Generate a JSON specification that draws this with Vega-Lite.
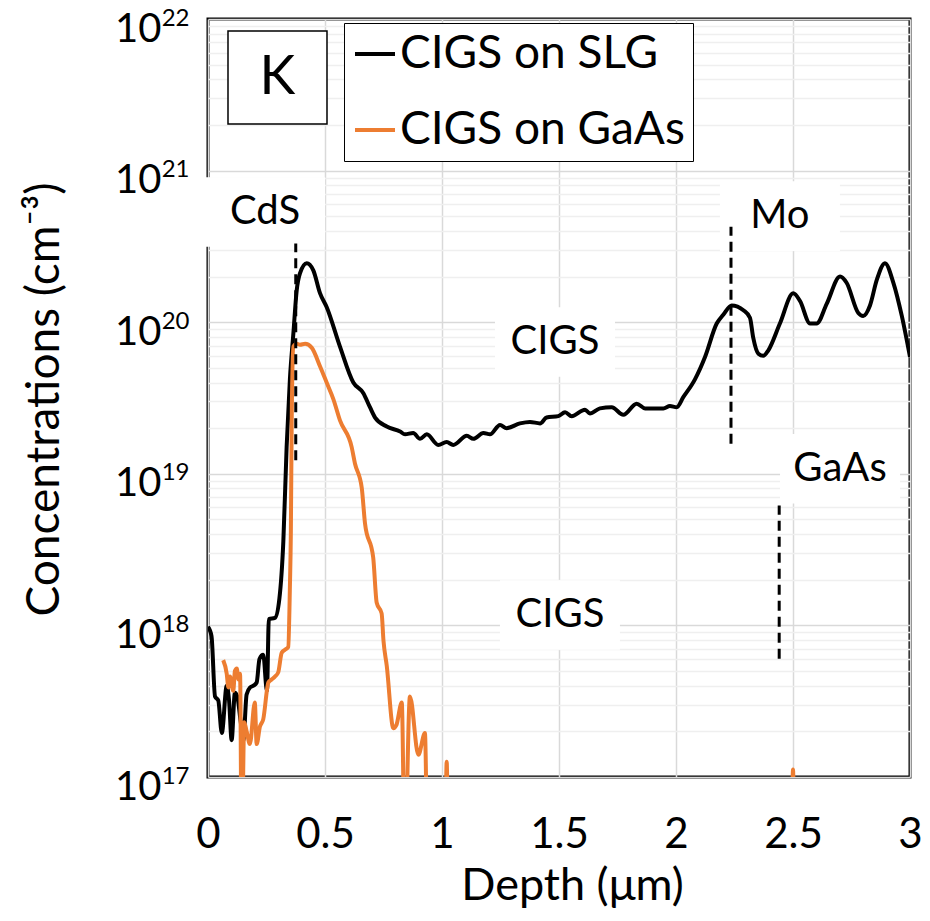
{
  "$schema": "https://vega.github.io/schema/vega-lite/v6.json",
  "width": 702,
  "height": 758,
  "autosize": {"type": "none"},
  "padding": {"left": 208, "top": 19, "right": 20, "bottom": 144},
  "background": "white",
  "config": {
    "view": {"stroke": "#000000", "strokeWidth": 3},
    "font": "Lato"
  },
  "resolve": {"axis": {"y": "independent"}},
  "datasets": {
    "profiles": [
      {"sample": "CIGS on SLG", "depth": 0.0, "conc": 9.8e17},
      {"sample": "CIGS on SLG", "depth": 0.015, "conc": 8.5e17},
      {"sample": "CIGS on SLG", "depth": 0.030, "conc": 3.4e17},
      {"sample": "CIGS on SLG", "depth": 0.044, "conc": 3.2e17},
      {"sample": "CIGS on SLG", "depth": 0.059, "conc": 1.95e17},
      {"sample": "CIGS on SLG", "depth": 0.080, "conc": 4.0e17},
      {"sample": "CIGS on SLG", "depth": 0.090, "conc": 3.2e17},
      {"sample": "CIGS on SLG", "depth": 0.101, "conc": 1.75e17},
      {"sample": "CIGS on SLG", "depth": 0.115, "conc": 3.6e17},
      {"sample": "CIGS on SLG", "depth": 0.125, "conc": 3.4e17},
      {"sample": "CIGS on SLG", "depth": 0.140, "conc": 2.3e17},
      {"sample": "CIGS on SLG", "depth": 0.151, "conc": 1.75e17},
      {"sample": "CIGS on SLG", "depth": 0.165, "conc": 3.5e17},
      {"sample": "CIGS on SLG", "depth": 0.180, "conc": 3.9e17},
      {"sample": "CIGS on SLG", "depth": 0.194, "conc": 4.0e17},
      {"sample": "CIGS on SLG", "depth": 0.208, "conc": 4.2e17},
      {"sample": "CIGS on SLG", "depth": 0.220, "conc": 6.0e17},
      {"sample": "CIGS on SLG", "depth": 0.236, "conc": 6.4e17},
      {"sample": "CIGS on SLG", "depth": 0.252, "conc": 3.7e17},
      {"sample": "CIGS on SLG", "depth": 0.260, "conc": 1.1e18},
      {"sample": "CIGS on SLG", "depth": 0.286, "conc": 1.12e18},
      {"sample": "CIGS on SLG", "depth": 0.305, "conc": 1.5e18},
      {"sample": "CIGS on SLG", "depth": 0.322, "conc": 3.6e18},
      {"sample": "CIGS on SLG", "depth": 0.336, "conc": 1.5e19},
      {"sample": "CIGS on SLG", "depth": 0.350, "conc": 4.2e19},
      {"sample": "CIGS on SLG", "depth": 0.365, "conc": 8.5e19},
      {"sample": "CIGS on SLG", "depth": 0.379, "conc": 1.62e20},
      {"sample": "CIGS on SLG", "depth": 0.393, "conc": 2.1e20},
      {"sample": "CIGS on SLG", "depth": 0.422, "conc": 2.45e20},
      {"sample": "CIGS on SLG", "depth": 0.450, "conc": 2.2e20},
      {"sample": "CIGS on SLG", "depth": 0.479, "conc": 1.55e20},
      {"sample": "CIGS on SLG", "depth": 0.507, "conc": 1.26e20},
      {"sample": "CIGS on SLG", "depth": 0.564, "conc": 6.9e19},
      {"sample": "CIGS on SLG", "depth": 0.621, "conc": 4.0e19},
      {"sample": "CIGS on SLG", "depth": 0.664, "conc": 3.4e19},
      {"sample": "CIGS on SLG", "depth": 0.692, "conc": 2.75e19},
      {"sample": "CIGS on SLG", "depth": 0.714, "conc": 2.35e19},
      {"sample": "CIGS on SLG", "depth": 0.764, "conc": 2.05e19},
      {"sample": "CIGS on SLG", "depth": 0.821, "conc": 1.9e19},
      {"sample": "CIGS on SLG", "depth": 0.842, "conc": 1.82e19},
      {"sample": "CIGS on SLG", "depth": 0.877, "conc": 1.86e19},
      {"sample": "CIGS on SLG", "depth": 0.906, "conc": 1.7e19},
      {"sample": "CIGS on SLG", "depth": 0.935, "conc": 1.82e19},
      {"sample": "CIGS on SLG", "depth": 0.984, "conc": 1.55e19},
      {"sample": "CIGS on SLG", "depth": 1.020, "conc": 1.62e19},
      {"sample": "CIGS on SLG", "depth": 1.048, "conc": 1.55e19},
      {"sample": "CIGS on SLG", "depth": 1.106, "conc": 1.78e19},
      {"sample": "CIGS on SLG", "depth": 1.134, "conc": 1.7e19},
      {"sample": "CIGS on SLG", "depth": 1.177, "conc": 1.86e19},
      {"sample": "CIGS on SLG", "depth": 1.205, "conc": 1.82e19},
      {"sample": "CIGS on SLG", "depth": 1.248, "conc": 2.1e19},
      {"sample": "CIGS on SLG", "depth": 1.276, "conc": 2.0e19},
      {"sample": "CIGS on SLG", "depth": 1.333, "conc": 2.15e19},
      {"sample": "CIGS on SLG", "depth": 1.376, "conc": 2.2e19},
      {"sample": "CIGS on SLG", "depth": 1.419, "conc": 2.15e19},
      {"sample": "CIGS on SLG", "depth": 1.447, "conc": 2.35e19},
      {"sample": "CIGS on SLG", "depth": 1.497, "conc": 2.4e19},
      {"sample": "CIGS on SLG", "depth": 1.526, "conc": 2.55e19},
      {"sample": "CIGS on SLG", "depth": 1.554, "conc": 2.4e19},
      {"sample": "CIGS on SLG", "depth": 1.611, "conc": 2.65e19},
      {"sample": "CIGS on SLG", "depth": 1.632, "conc": 2.5e19},
      {"sample": "CIGS on SLG", "depth": 1.675, "conc": 2.7e19},
      {"sample": "CIGS on SLG", "depth": 1.725, "conc": 2.75e19},
      {"sample": "CIGS on SLG", "depth": 1.775, "conc": 2.45e19},
      {"sample": "CIGS on SLG", "depth": 1.832, "conc": 2.9e19},
      {"sample": "CIGS on SLG", "depth": 1.868, "conc": 2.7e19},
      {"sample": "CIGS on SLG", "depth": 1.946, "conc": 2.7e19},
      {"sample": "CIGS on SLG", "depth": 1.974, "conc": 2.8e19},
      {"sample": "CIGS on SLG", "depth": 2.003, "conc": 2.75e19},
      {"sample": "CIGS on SLG", "depth": 2.031, "conc": 3.2e19},
      {"sample": "CIGS on SLG", "depth": 2.081, "conc": 4.2e19},
      {"sample": "CIGS on SLG", "depth": 2.124, "conc": 5.9e19},
      {"sample": "CIGS on SLG", "depth": 2.174, "conc": 9.8e19},
      {"sample": "CIGS on SLG", "depth": 2.202, "conc": 1.12e20},
      {"sample": "CIGS on SLG", "depth": 2.238, "conc": 1.29e20},
      {"sample": "CIGS on SLG", "depth": 2.288, "conc": 1.2e20},
      {"sample": "CIGS on SLG", "depth": 2.316, "conc": 1.07e20},
      {"sample": "CIGS on SLG", "depth": 2.330, "conc": 7.9e19},
      {"sample": "CIGS on SLG", "depth": 2.352, "conc": 6.2e19},
      {"sample": "CIGS on SLG", "depth": 2.373, "conc": 6.0e19},
      {"sample": "CIGS on SLG", "depth": 2.394, "conc": 6.5e19},
      {"sample": "CIGS on SLG", "depth": 2.444, "conc": 9.8e19},
      {"sample": "CIGS on SLG", "depth": 2.501, "conc": 1.55e20},
      {"sample": "CIGS on SLG", "depth": 2.530, "conc": 1.38e20},
      {"sample": "CIGS on SLG", "depth": 2.573, "conc": 9.8e19},
      {"sample": "CIGS on SLG", "depth": 2.601, "conc": 9.8e19},
      {"sample": "CIGS on SLG", "depth": 2.644, "conc": 1.32e20},
      {"sample": "CIGS on SLG", "depth": 2.701, "conc": 2.0e20},
      {"sample": "CIGS on SLG", "depth": 2.729, "conc": 1.82e20},
      {"sample": "CIGS on SLG", "depth": 2.779, "conc": 1.15e20},
      {"sample": "CIGS on SLG", "depth": 2.800, "conc": 1.1e20},
      {"sample": "CIGS on SLG", "depth": 2.829, "conc": 1.29e20},
      {"sample": "CIGS on SLG", "depth": 2.858, "conc": 1.9e20},
      {"sample": "CIGS on SLG", "depth": 2.893, "conc": 2.45e20},
      {"sample": "CIGS on SLG", "depth": 2.929, "conc": 1.82e20},
      {"sample": "CIGS on SLG", "depth": 2.965, "conc": 1.1e20},
      {"sample": "CIGS on SLG", "depth": 3.0, "conc": 5.9e19},

      {"sample": "CIGS on GaAs", "depth": 0.065, "conc": 5.9e17},
      {"sample": "CIGS on GaAs", "depth": 0.080, "conc": 4.8e17},
      {"sample": "CIGS on GaAs", "depth": 0.087, "conc": 3.9e17},
      {"sample": "CIGS on GaAs", "depth": 0.094, "conc": 4.6e17},
      {"sample": "CIGS on GaAs", "depth": 0.108, "conc": 3.7e17},
      {"sample": "CIGS on GaAs", "depth": 0.115, "conc": 5.0e17},
      {"sample": "CIGS on GaAs", "depth": 0.123, "conc": 5.2e17},
      {"sample": "CIGS on GaAs", "depth": 0.130, "conc": 4.4e17},
      {"sample": "CIGS on GaAs", "depth": 0.137, "conc": 4.8e17},
      {"sample": "CIGS on GaAs", "depth": 0.144, "conc": 3e16},
      {"sample": "CIGS on GaAs", "depth": 0.155, "conc": 2.3e17},
      {"sample": "CIGS on GaAs", "depth": 0.165, "conc": 2.0e17},
      {"sample": "CIGS on GaAs", "depth": 0.179, "conc": 1.65e17},
      {"sample": "CIGS on GaAs", "depth": 0.200, "conc": 3.1e17},
      {"sample": "CIGS on GaAs", "depth": 0.208, "conc": 1.65e17},
      {"sample": "CIGS on GaAs", "depth": 0.222, "conc": 2.15e17},
      {"sample": "CIGS on GaAs", "depth": 0.236, "conc": 2.4e17},
      {"sample": "CIGS on GaAs", "depth": 0.258, "conc": 4.2e17},
      {"sample": "CIGS on GaAs", "depth": 0.272, "conc": 4.4e17},
      {"sample": "CIGS on GaAs", "depth": 0.286, "conc": 4.6e17},
      {"sample": "CIGS on GaAs", "depth": 0.300, "conc": 4.9e17},
      {"sample": "CIGS on GaAs", "depth": 0.315, "conc": 6.6e17},
      {"sample": "CIGS on GaAs", "depth": 0.329, "conc": 6.9e17},
      {"sample": "CIGS on GaAs", "depth": 0.343, "conc": 7.2e17},
      {"sample": "CIGS on GaAs", "depth": 0.350, "conc": 1.8e18},
      {"sample": "CIGS on GaAs", "depth": 0.354, "conc": 4.0e18},
      {"sample": "CIGS on GaAs", "depth": 0.358, "conc": 2.5e19},
      {"sample": "CIGS on GaAs", "depth": 0.365, "conc": 6.9e19},
      {"sample": "CIGS on GaAs", "depth": 0.380, "conc": 7.2e19},
      {"sample": "CIGS on GaAs", "depth": 0.393, "conc": 7.1e19},
      {"sample": "CIGS on GaAs", "depth": 0.415, "conc": 7.2e19},
      {"sample": "CIGS on GaAs", "depth": 0.443, "conc": 6.8e19},
      {"sample": "CIGS on GaAs", "depth": 0.479, "conc": 5.1e19},
      {"sample": "CIGS on GaAs", "depth": 0.507, "conc": 4.0e19},
      {"sample": "CIGS on GaAs", "depth": 0.536, "conc": 3.1e19},
      {"sample": "CIGS on GaAs", "depth": 0.564, "conc": 2.25e19},
      {"sample": "CIGS on GaAs", "depth": 0.614, "conc": 1.5e19},
      {"sample": "CIGS on GaAs", "depth": 0.628, "conc": 1.17e19},
      {"sample": "CIGS on GaAs", "depth": 0.657, "conc": 8.1e18},
      {"sample": "CIGS on GaAs", "depth": 0.671, "conc": 4.7e18},
      {"sample": "CIGS on GaAs", "depth": 0.706, "conc": 2.8e18},
      {"sample": "CIGS on GaAs", "depth": 0.721, "conc": 1.41e18},
      {"sample": "CIGS on GaAs", "depth": 0.742, "conc": 1.2e18},
      {"sample": "CIGS on GaAs", "depth": 0.750, "conc": 7.9e17},
      {"sample": "CIGS on GaAs", "depth": 0.764, "conc": 5.4e17},
      {"sample": "CIGS on GaAs", "depth": 0.792, "conc": 2.1e17},
      {"sample": "CIGS on GaAs", "depth": 0.805, "conc": 2.2e17},
      {"sample": "CIGS on GaAs", "depth": 0.828, "conc": 3.1e17},
      {"sample": "CIGS on GaAs", "depth": 0.841, "conc": 3e16},
      {"sample": "CIGS on GaAs", "depth": 0.863, "conc": 3.4e17},
      {"sample": "CIGS on GaAs", "depth": 0.899, "conc": 1.4e17},
      {"sample": "CIGS on GaAs", "depth": 0.927, "conc": 1.95e17},
      {"sample": "CIGS on GaAs", "depth": 0.937, "conc": 3e16},
      {"sample": "CIGS on GaAs", "depth": 0.945, "conc": 1e16},
      {"sample": "CIGS on GaAs", "depth": 1.010, "conc": 1e16},
      {"sample": "CIGS on GaAs", "depth": 1.020, "conc": 1.26e17},
      {"sample": "CIGS on GaAs", "depth": 1.030, "conc": 1e16},
      {"sample": "CIGS on GaAs", "depth": 2.490, "conc": 1e16},
      {"sample": "CIGS on GaAs", "depth": 2.500, "conc": 1.12e17},
      {"sample": "CIGS on GaAs", "depth": 2.510, "conc": 1e16},
      {"sample": "CIGS on GaAs", "depth": 3.0, "conc": 1e16}
    ],
    "labels": [
      {"text": "CdS", "depth": 0.244, "conc": 5.33e20},
      {"text": "CIGS", "depth": 1.483, "conc": 7.4e19},
      {"text": "CIGS", "depth": 1.504, "conc": 1.17e18},
      {"text": "Mo", "depth": 2.444, "conc": 5.01e20},
      {"text": "GaAs", "depth": 2.701, "conc": 1.08e19}
    ],
    "markers": [
      {"layer": "CdS", "depth": 0.375, "lo": 1.23e19, "hi": 3.31e20},
      {"layer": "Mo", "depth": 2.235, "lo": 1.58e19, "hi": 4.27e20},
      {"layer": "GaAs", "depth": 2.441, "lo": 6.03e17, "hi": 6.17e18}
    ],
    "panel": [
      {"text": "K", "depth": 0.297, "conc": 4.11e21}
    ]
  },
  "encoding": {
    "x": {
      "field": "depth",
      "type": "quantitative",
      "scale": {"domain": [0, 3], "nice": false, "zero": false},
      "axis": {
        "values": [0, 0.5, 1, 1.5, 2, 2.5, 3],
        "labelExpr": "'' + datum.value",
        "title": "Depth (μm)",
        "titleFont": "Lato",
        "titleFontSize": 45,
        "titleFontWeight": "normal",
        "titleColor": "#000000",
        "titleX": 364,
        "titleY": 108,
        "titleBaseline": "middle",
        "labelFont": "Lato",
        "labelFontSize": 42,
        "labelColor": "#000000",
        "labelPadding": 37,
        "labelOverlap": false,
        "labelFlush": false,
        "ticks": false,
        "domain": false,
        "grid": true,
        "gridColor": "#d9d9d9",
        "gridWidth": 1.5
      }
    },
    "y": {
      "field": "conc",
      "type": "quantitative",
      "scale": {"type": "log", "domain": [1e17, 1e22], "nice": false},
      "axis": null
    }
  },
  "layer": [
    {
      "data": {"name": "labels"},
      "mark": {"type": "point", "shape": "M-1,-0.58L1,-0.58L1,0.58L-1,0.58Z", "size": 14400, "filled": true, "fill": "#ffffff", "strokeWidth": 0, "opacity": 1},
      "encoding": {
        "y": {
          "field": "conc",
          "type": "quantitative",
          "scale": {"type": "log", "domain": [1e17, 1e22], "nice": false},
          "axis": {
            "orient": "left",
            "values": [1e17, 1e18, 1e19, 1e20, 1e21, 1e22],
            "labelExpr": "'' + round(log(datum.value)/LN10)",
            "title": null,
            "labelFont": "Lato",
            "labelFontSize": 24,
            "labelColor": "#000000",
            "labelAlign": "right",
            "labelBaseline": "middle",
            "labelPadding": 19,
            "labelOffset": -1,
            "labelOverlap": false,
            "labelFlush": false,
            "ticks": false,
            "domain": false,
            "grid": false
          }
        }
      }
    },
    {
      "data": {"name": "profiles"},
      "mark": {"type": "line", "strokeWidth": 4, "clip": true, "interpolate": "monotone"},
      "encoding": {
        "y": {
          "field": "conc",
          "type": "quantitative",
          "scale": {"type": "log", "domain": [1e17, 1e22], "nice": false},
          "axis": {
            "orient": "left",
            "values": [1e17, 2e17, 3e17, 4e17, 5e17, 6e17, 7e17, 8e17, 9e17,
                       1e18, 2e18, 3e18, 4e18, 5e18, 6e18, 7e18, 8e18, 9e18,
                       1e19, 2e19, 3e19, 4e19, 5e19, 6e19, 7e19, 8e19, 9e19,
                       1e20, 2e20, 3e20, 4e20, 5e20, 6e20, 7e20, 8e20, 9e20,
                       1e21, 2e21, 3e21, 4e21, 5e21, 6e21, 7e21, 8e21, 9e21, 1e22],
            "labelExpr": "abs(log(datum.value)/LN10 - round(log(datum.value)/LN10)) < 1e-6 ? '10' : ''",
            "title": "Concentrations (cm⁻³)",
            "titleFont": "Lato",
            "titleFontSize": 46,
            "titleFontWeight": "normal",
            "titleColor": "#000000",
            "titleX": -164,
            "titleY": 380,
            "titleAlign": "center",
            "titleBaseline": "middle",
            "labelFont": "Lato",
            "labelFontSize": 40,
            "labelColor": "#000000",
            "labelAlign": "right",
            "labelBaseline": "middle",
            "labelPadding": 47,
            "labelOffset": 10,
            "labelOverlap": false,
            "labelFlush": false,
            "ticks": false,
            "domain": false,
            "grid": true,
            "gridColor": {
              "condition": {"test": "abs(log(datum.value)/LN10 - round(log(datum.value)/LN10)) < 1e-6", "value": "#d9d9d9"},
              "value": "#efefef"
            },
            "gridWidth": 1.5
          }
        },
        "color": {
          "field": "sample",
          "type": "nominal",
          "sort": ["CIGS on SLG", "CIGS on GaAs"],
          "scale": {"domain": ["CIGS on SLG", "CIGS on GaAs"], "range": ["#000000", "#ED7D31"]},
          "legend": {
            "orient": "none",
            "legendX": 136,
            "legendY": 4,
            "title": null,
            "fillColor": "#ffffff",
            "strokeColor": "#000000",
            "padding": 8,
            "symbolType": "stroke",
            "symbolSize": 1600,
            "symbolStrokeWidth": 4,
            "labelFont": "Lato",
            "labelFontSize": 46,
            "labelColor": "#000000",
            "labelLimit": 0,
            "labelOffset": 2,
            "rowPadding": 30
          }
        },
        "order": {"field": "depth", "type": "quantitative"}
      }
    },
    {
      "data": {"name": "markers"},
      "mark": {"type": "rule", "strokeWidth": 3, "strokeDash": [10, 6], "color": "#000000"},
      "encoding": {
        "y": {"field": "lo", "type": "quantitative", "scale": {"type": "log", "domain": [1e17, 1e22], "nice": false}, "axis": null},
        "y2": {"field": "hi"}
      }
    },
    {
      "data": {"name": "labels"},
      "mark": {"type": "text", "font": "Lato", "fontSize": 40, "align": "center", "baseline": "middle", "color": "#000000"},
      "encoding": {"text": {"field": "text"}}
    },
    {
      "data": {"name": "panel"},
      "mark": {"type": "point", "shape": "M-1,-0.94L1,-0.94L1,0.94L-1,0.94Z", "size": 9801, "filled": false, "fill": "#ffffff", "fillOpacity": 1, "stroke": "#000000", "strokeWidth": 1.5, "opacity": 1}
    },
    {
      "data": {"name": "panel"},
      "mark": {"type": "text", "font": "Lato", "fontSize": 54, "align": "center", "baseline": "middle", "color": "#000000"},
      "encoding": {"text": {"field": "text"}}
    }
  ]
}
